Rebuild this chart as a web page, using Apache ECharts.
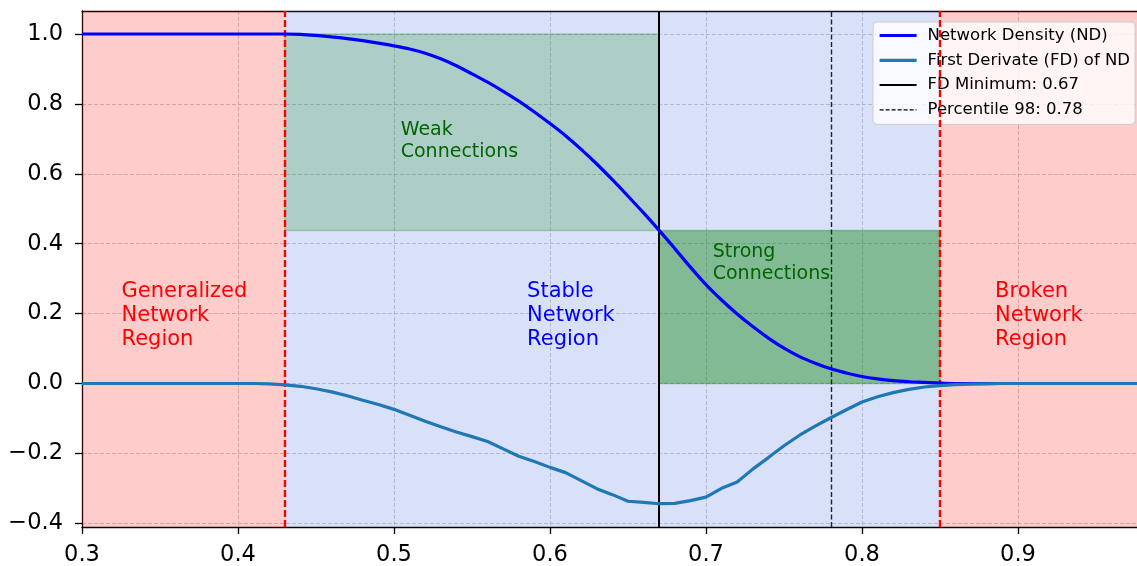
<!DOCTYPE html>
<html><head><meta charset="utf-8">
<script src="https://cdn.jsdelivr.net/npm/echarts@6/dist/echarts.min.js"></script>
<style>html,body{margin:0;padding:0;background:#fff}#c{width:1137px;height:566px}</style>
</head><body><div id="c"></div>
<script>
const xValues = [0.30,0.31,0.32,0.33,0.34,0.35,0.36,0.37,0.38,0.39,
  0.40,0.41,0.42,0.43,0.44,0.45,0.46,0.47,0.48,0.49,
  0.50,0.51,0.52,0.53,0.54,0.55,0.56,0.57,0.58,0.59,
  0.60,0.61,0.62,0.63,0.64,0.65,0.66,0.67,0.68,0.69,
  0.70,0.71,0.72,0.73,0.74,0.75,0.76,0.77,0.78,0.79,
  0.80,0.81,0.82,0.83,0.84,0.85,0.86,0.87,0.88,0.89,
  0.90,0.91,0.92,0.93,0.94,0.95,0.96,0.97,0.98];
const ndValues = [1.000,1.000,1.000,1.000,1.000,1.000,1.000,1.000,1.000,1.000,
  1.000,1.000,1.000,1.000,0.999,0.996,0.992,0.987,0.981,0.974,
  0.966,0.957,0.945,0.929,0.909,0.886,0.862,0.836,0.808,0.777,
  0.744,0.709,0.670,0.628,0.583,0.536,0.488,0.438,0.386,0.333,
  0.283,0.239,0.199,0.163,0.130,0.101,0.077,0.058,0.042,0.030,
  0.020,0.013,0.008,0.005,0.003,0.001,0.000,0.000,0.000,0.000,
  0.000,0.000,0.000,0.000,0.000,0.000,0.000,0.000,0.000];
const fdValues = [0.000,0.000,0.000,0.000,0.000,0.000,0.000,0.000,0.000,0.000,
  0.000,0.000,-0.001,-0.004,-0.008,-0.015,-0.024,-0.035,-0.048,-0.060,
  -0.074,-0.091,-0.108,-0.124,-0.139,-0.152,-0.166,-0.187,-0.208,-0.223,
  -0.240,-0.255,-0.278,-0.301,-0.318,-0.337,-0.340,-0.344,-0.343,-0.335,
  -0.325,-0.300,-0.282,-0.245,-0.212,-0.178,-0.148,-0.122,-0.098,-0.075,
  -0.053,-0.038,-0.026,-0.017,-0.010,-0.006,-0.003,-0.002,-0.001,0.000,
  0.000,0.000,0.000,0.000,0.000,0.000,0.000,0.000,0.000];
const xTicks = [0.3,0.4,0.5,0.6,0.7,0.8,0.9];
const yTicks = [-0.4,-0.2,0.0,0.2,0.4,0.6,0.8,1.0];
const xRange = [0.3, 0.9763];
const yRange = [-0.4106, 1.0658];
const generalizedEnd = 0.43;
const brokenStart = 0.85;
const fdMinimum = 0.67;
const percentile98 = 0.78;
const weakTop = 1.0;
const seriesNames = ['Network Density (ND)','First Derivate (FD) of ND','FD Minimum: 0.67','Percentile 98: 0.78'];
const regionTexts = [
  [0.325, 0.194, 'Generalized\nNetwork\nRegion', '#ff0000', 'big'],
  [0.585, 0.194, 'Stable\nNetwork\nRegion', '#0000ff', 'big'],
  [0.885, 0.194, 'Broken\nNetwork\nRegion', '#ff0000', 'big'],
  [0.504, 0.695, 'Weak\nConnections', '#006400', 'small'],
  [0.704, 0.344, 'Strong\nConnections', '#006400', 'small']
];

const FONT = 'DejaVu Sans';
const ndAtMin = ndValues[xValues.indexOf(fdMinimum)];
const ndData = xValues.map((x,i)=>[x, ndValues[i]]);
const fdData = xValues.map((x,i)=>[x, fdValues[i]]);
const fmt = v => (v < -1e-9 ? '\u2212' : '') + Math.abs(v).toFixed(1);
const gridLine = {show: true, lineStyle: {color: '#b0b0b0', width: 0.8, type: [4,2], opacity: 0.8}};
const legendLines = [
  {color: '#0000ff', width: 3.2, type: 'solid'},
  {color: '#1f77b4', width: 3.2, type: 'solid'},
  {color: '#000000', width: 2, type: 'solid'},
  {color: '#000000', width: 1.3, type: [4,2]}
];

const chart = echarts.init(document.getElementById('c'), null, {renderer:'canvas'});
chart.setOption({
  animation: false,
  backgroundColor: '#ffffff',
  grid: {left: 82, top: 11, right: 0, bottom: 39, show: false, containLabel: false, outerBoundsMode: 'none'},
  legend: {
    data: seriesNames.map((n, i) => ({name: n, lineStyle: legendLines[i]})),
    orient: 'vertical', left: 873, top: 22,
    itemWidth: 37, itemHeight: 12, itemGap: 7.8,
    padding: [5, 5, 6, 5],
    backgroundColor: 'rgba(255,255,255,0.8)', borderColor: '#cccccc', borderWidth: 1, borderRadius: 4,
    itemStyle: {opacity: 0},
    textStyle: {fontSize: 16.5, fontFamily: FONT, color: '#000', padding: [0,0,0,6], lineHeight: 16.5},
    selectedMode: false
  },
  xAxis: [{
    type: 'value', min: xRange[0], max: xRange[1],
    axisLine: {show: true, onZero: false, lineStyle: {color: '#000', width: 1.3}},
    axisTick: {show: true, length: 7, customValues: xTicks, lineStyle: {color: '#000', width: 1.3}},
    axisLabel: {customValues: xTicks, formatter: fmt, fontSize: 22.5, fontFamily: FONT, color: '#000', margin: 17},
    splitLine: gridLine
  }, {
    type: 'value', position: 'top', min: xRange[0], max: xRange[1],
    axisLine: {show: true, onZero: false, lineStyle: {color: '#000', width: 1.3}},
    axisTick: {show: false}, axisLabel: {show: false}, splitLine: {show: false}
  }],
  yAxis: {
    type: 'value', min: yRange[0], max: yRange[1],
    axisLine: {show: true, onZero: false, lineStyle: {color: '#000', width: 1.3}},
    axisTick: {show: true, length: 7, customValues: yTicks, lineStyle: {color: '#000', width: 1.3}},
    axisLabel: {customValues: yTicks, formatter: fmt, fontSize: 22.5, fontFamily: FONT, color: '#000', margin: 19},
    splitLine: gridLine
  },
  series: [
    {
      name: 'bg', type: 'line', data: [], z: 1, silent: true,
      markArea: {
        silent: true,
        data: [
          [{xAxis: xRange[0], itemStyle: {color: 'rgba(255,0,0,0.2)'}}, {xAxis: generalizedEnd}],
          [{xAxis: generalizedEnd, itemStyle: {color: 'rgba(65,105,225,0.2)'}}, {xAxis: brokenStart}],
          [{xAxis: brokenStart, itemStyle: {color: 'rgba(255,0,0,0.2)'}}, {xAxis: xRange[1]}],
          [{coord: [generalizedEnd, ndAtMin], itemStyle: {color: 'rgba(0,128,0,0.2)', borderColor: 'rgba(0,128,0,0.25)', borderWidth: 1.5}}, {coord: [fdMinimum, weakTop]}],
          [{coord: [fdMinimum, 0], itemStyle: {color: 'rgba(0,128,0,0.4)', borderColor: 'rgba(0,128,0,0.3)', borderWidth: 1.5}}, {coord: [brokenStart, ndAtMin]}]
        ]
      }
    },
    {
      name: seriesNames[0], type: 'line', data: ndData, symbol: 'none', z: 5,
      smooth: 0.35,
      color: '#0000ff', lineStyle: {color: '#0000ff', width: 3.2}
    },
    {
      name: seriesNames[1], type: 'line', data: fdData, symbol: 'none', z: 5,
      color: '#1f77b4', lineStyle: {color: '#1f77b4', width: 3.2}
    },
    {
      name: seriesNames[2], type: 'line', data: [], symbol: 'none', z: 6,
      color: '#000', lineStyle: {color: '#000', width: 2, type: 'solid'},
      markLine: {silent: true, symbol: ['none','none'], label: {show: false},
        lineStyle: {color: '#000', width: 2, type: 'solid'}, data: [{xAxis: fdMinimum}]}
    },
    {
      name: seriesNames[3], type: 'line', data: [], symbol: 'none', z: 6,
      color: '#000', lineStyle: {color: '#000', width: 1.3, type: [4,2]},
      markLine: {silent: true, symbol: ['none','none'], label: {show: false},
        lineStyle: {color: '#222', width: 1.4, type: [5,2.5]}, data: [{xAxis: percentile98}]}
    },
    {
      name: 'bounds', type: 'line', data: [], symbol: 'none', z: 7,
      markLine: {silent: true, symbol: ['none','none'], label: {show: false},
        lineStyle: {color: '#ff0000', width: 2.4, type: [7,3]},
        data: [{xAxis: generalizedEnd}, {xAxis: brokenStart}]}
    },
    {
      name: 'texts', type: 'scatter', z: 8, silent: true, symbolSize: 1,
      itemStyle: {color: 'rgba(0,0,0,0)', opacity: 1},
      data: regionTexts.map(r => ({
        value: [r[0], r[1]],
        label: {
          show: true, position: 'right', distance: 0, align: 'left', verticalAlign: 'middle',
          formatter: r[2], color: r[3], fontFamily: FONT, opacity: 1,
          fontSize: r[4] === 'big' ? 21 : 19, lineHeight: r[4] === 'big' ? 24 : 22
        }
      }))
    }
  ]
});
</script></body></html>
